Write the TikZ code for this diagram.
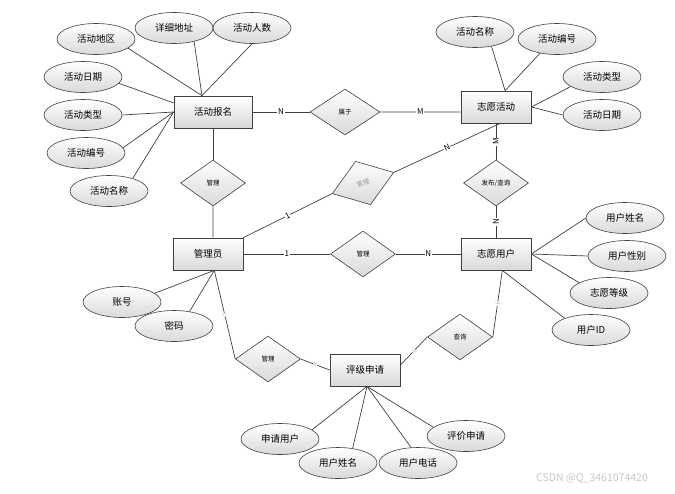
\documentclass[tikz,border=0pt]{standalone}
\usepackage{fontspec}
\setmainfont{Noto Sans CJK SC}
\usetikzlibrary{shapes.geometric,shadows}
\definecolor{erLine}{HTML}{404040}
\definecolor{erFill}{HTML}{D9D9D9}
\definecolor{erFaint}{HTML}{9A9A9A}

\begin{document}
\begin{tikzpicture}[x=1pt,y=-1pt,entity/.style={draw=erLine,line width=0.8pt,top color=white,bottom color=erFill,minimum width=70pt,minimum height=32pt,inner sep=0pt,font=\fontsize{9.5}{11}\selectfont,drop shadow={shadow xshift=1.2pt,shadow yshift=-1.2pt,opacity=0.35}},attr/.style={ellipse,draw=erLine,line width=0.6pt,top color=white,bottom color=erFill,minimum width=78pt,minimum height=31pt,inner sep=0pt,font=\fontsize{9.5}{11}\selectfont},rel/.style={diamond,draw=erLine,line width=0.6pt,top color=white,bottom color=erFill,minimum width=65pt,minimum height=46pt,inner sep=0pt,font=\fontsize{6.5}{8}\selectfont},link/.style={draw=erLine,line width=0.7pt},card/.style={fill=white,inner sep=0.8pt,font=\fontsize{8}{9}\selectfont},faintcard/.style={fill=white,inner sep=0.4pt,text=erFaint,font=\fontsize{5}{6}\selectfont}]
\useasboundingbox (0,0) rectangle (675,493);
\node[entity,minimum width=78pt] (act) at (213,112) {活动报名};
\node[entity] (vact) at (496,107) {志愿活动};
\node[entity] (admin) at (208,254) {管理员};
\node[entity] (vuser) at (496,254) {志愿用户};
\node[entity] (rate) at (365,370) {评级申请};
\node[rel,minimum width=70pt] (belong) at (345,112) {属于};
\node[rel] (mgr1) at (213,183) {管理};
\node[rel,rotate=19,text=erFaint] (mgr2) at (363,183) {管理};
\node[rel] (mgr3) at (363,254) {管理};
\node[rel] (pub) at (496,183) {发布/查询};
\node[rel] (mgr4) at (268,359) {管理};
\node[rel] (query) at (460,337) {查询};
\node[attr] (a1) at (96,39) {活动地区};
\node[attr] (a2) at (174,28) {详细地址};
\node[attr] (a3) at (252,28) {活动人数};
\node[attr] (a4) at (83,77) {活动日期};
\node[attr] (a5) at (83,115) {活动类型};
\node[attr] (a6) at (86,153) {活动编号};
\node[attr] (a7) at (109,191) {活动名称};
\node[attr] (b1) at (475,32) {活动名称};
\node[attr] (b2) at (557,39) {活动编号};
\node[attr] (b3) at (602,77) {活动类型};
\node[attr] (b4) at (602,115) {活动日期};
\node[attr] (c1) at (625,218) {用户姓名};
\node[attr] (c2) at (627,256) {用户性别};
\node[attr] (c3) at (609,293) {志愿等级};
\node[attr] (c4) at (591,330) {用户ID};
\node[attr] (d1) at (122,302) {账号};
\node[attr] (d2) at (174,326) {密码};
\node[attr] (e1) at (280,439) {申请用户};
\node[attr] (e2) at (338,463) {用户姓名};
\node[attr] (e3) at (418,463) {用户电话};
\node[attr] (e4) at (466,436) {评价申请};
\draw[link] (act) -- node[card] {N} (belong);
\draw[link] (belong) -- node[card] {M} (vact.188);
\draw[link] (vact) -- node[card,rotate=90] {M} (pub);
\draw[link] (pub) -- node[card,rotate=90] {N} (vuser);
\draw[link] (act) -- (mgr1);
\draw[link] (mgr1) -- (admin.73);
\draw[link] (admin.north east) -- node[card,sloped] {1} (mgr2.west);
\draw[link] (mgr2.east) -- node[card,sloped] {N} (vact.284);
\draw[link] (admin) -- node[card] {1} (mgr3);
\draw[link] (mgr3) -- node[card] {N} (vuser);
\draw[link] (admin.291) -- node[faintcard,sloped] {1} (mgr4.west);
\draw[link] (mgr4.east) -- node[faintcard,sloped] {N} (rate.west);
\draw[link] (rate.8) -- node[faintcard,sloped] {1} (query.west);
\draw[link] (query.east) -- node[faintcard,sloped] {1} (vuser.291);
\draw[link] (a1.-16) -- (act.124);
\draw[link] (a2.-34) -- (act.124);
\draw[link] (a3.south) -- (act.124);
\draw[link] (a4.-10) -- (act.167);
\draw[link] (a5.east) -- (act.west);
\draw[link] (a6.8) -- (act.west);
\draw[link] (a7.28) -- (act.west);
\draw[link] (b1.-41) -- (vact.61);
\draw[link] (b2.220) -- (vact.61);
\draw[link] (b3.197) -- (vact.east);
\draw[link] (b4.west) -- (vact.east);
\draw[link] (c1.west) -- (vuser.east);
\draw[link] (c2.west) -- (vuser.east);
\draw[link] (c3.161) -- (vuser.east);
\draw[link] (c4.156) -- (vuser.291);
\draw[link] (d1.15) -- (admin.291);
\draw[link] (d2.43) -- (admin.291);
\draw[link] (e1.16) -- (rate.277);
\draw[link] (e2.45) -- (rate.277);
\draw[link] (e3.114) -- (rate.277);
\draw[link] (e4.165) -- (rate.277);
\node[text=gray!45,font=\fontsize{10.5}{12}\selectfont] (wm) at (592,479) {CSDN @Q\_3461074420};
\end{tikzpicture}
\end{document}
